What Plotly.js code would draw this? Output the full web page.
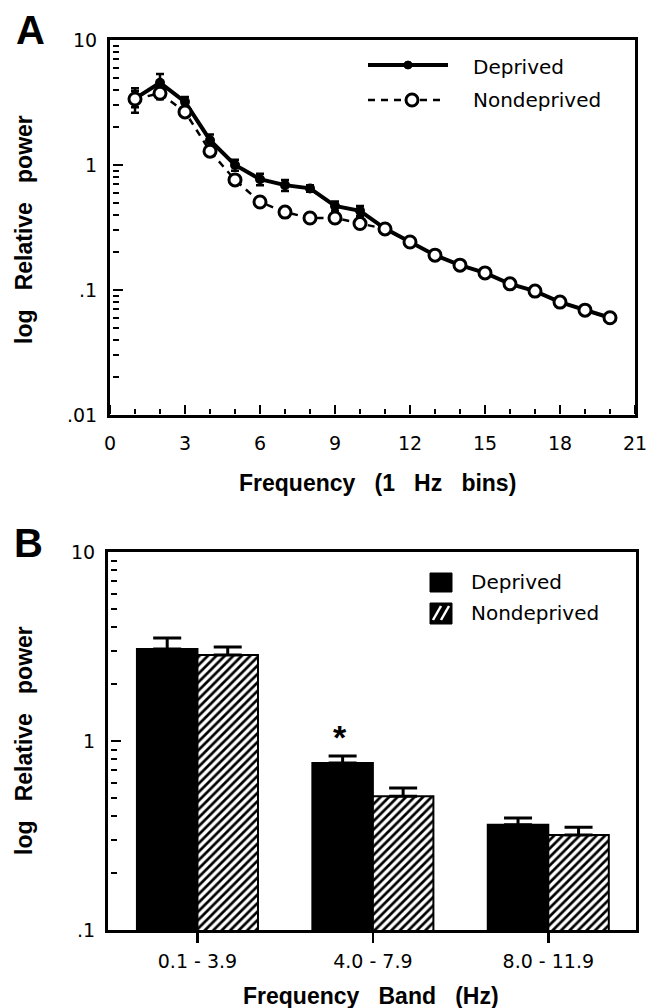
<!DOCTYPE html>
<html>
<head>
<meta charset="utf-8">
<script src="https://cdn.plot.ly/plotly-3.0.1.min.js"></script>
<style>html,body{margin:0;padding:0;background:#fff;}#chart{width:658px;height:1008px;}</style>
</head>
<body>
<div id="chart"></div>
<script>
// ---------- Data: panel A ----------
const freqBins = [1,2,3,4,5,6,7,8,9,10,11,12,13,14,15,16,17,18,19,20];
const deprivedPower = [3.4,4.55,3.2,1.58,1.0,0.77,0.69,0.65,0.47,0.43,0.31,0.245,0.19,0.158,0.137,0.112,0.098,0.080,0.069,0.060];
const deprivedErr   = [0.5,0.8,0.3,0.17,0.1,0.08,0.07,0.04,0.04,0.04,0.012,0.01,0.008,0.007,0.006,0.005,0.004,0.004,0.003,0.003];
const nondeprivedPower = [3.37,3.75,2.66,1.29,0.76,0.506,0.42,0.377,0.377,0.34,0.308,0.242,0.19,0.158,0.137,0.112,0.098,0.080,0.069,0.060];
const nondeprivedErr   = [0.75,0.4,0.2,0.1,0.06,0.04,0.04,0.03,0.03,0.03,0.012,0.01,0.008,0.007,0.006,0.005,0.004,0.004,0.003,0.003];
const xTickVals = [0,3,6,9,12,15,18,21];
const xMinorTickVals = [1,2,4,5,7,8,10,11,13,14,16,17,19,20];
const yTickVals = [0.01,0.1,1,10];
const yTickText = ['.01','.1','1','10'];

// ---------- Data: panel B ----------
const bands = ['0.1 - 3.9','4.0 - 7.9','8.0 - 11.9'];
const bandDeprived = [3.07,0.765,0.36];
const bandDeprivedErr = [0.44,0.068,0.031];
const bandNondeprived = [2.85,0.51,0.318];
const bandNondeprivedErr = [0.29,0.054,0.032];
const yTickValsB = [0.1,1,10];
const yTickTextB = ['.1','1','10'];

// ---------- helpers ----------
const W = 658, H = 1008;
const px = x => x / W;
const py = y => 1 - y / H;
function minorLog(lo, hi) {
  const v = [];
  for (let e = lo; e < hi; e++) for (let m = 2; m <= 9; m++) v.push(m * Math.pow(10, e));
  return v;
}
const FONT = 'DejaVu Sans, Verdana, sans-serif';
const BOLD = 'Liberation Sans, Arial, Helvetica, sans-serif';
const SP = '\u00a0\u00a0\u00a0';

// empty helper traces so that the tick-only overlay axes get drawn
const helper = (xa, ya) => ({x: [], y: [], xaxis: xa, yaxis: ya, type: 'scatter', mode: 'markers',
  showlegend: false, hoverinfo: 'skip'});

const traces = [
  helper('x3', 'y'), helper('x4', 'y'), helper('x', 'y3'), helper('x', 'y4'),
  helper('x2', 'y5'), helper('x2', 'y6'),
  {
    x: freqBins, y: deprivedPower, xaxis: 'x', yaxis: 'y', name: 'Deprived',
    type: 'scatter', mode: 'lines+markers',
    line: {color: 'black', width: 4},
    marker: {symbol: 'circle', size: 10, color: 'black'},
    error_y: {type: 'data', array: deprivedErr, visible: true, color: 'black', thickness: 2.5, width: 4},
    showlegend: false
  },
  {
    x: freqBins, y: nondeprivedPower, xaxis: 'x', yaxis: 'y', name: 'Nondeprived',
    type: 'scatter', mode: 'lines+markers',
    line: {color: 'black', width: 2.5, dash: '7px,6px'},
    marker: {symbol: 'circle', size: 12, color: 'white', line: {color: 'black', width: 3}},
    error_y: {type: 'data', array: nondeprivedErr, visible: true, color: 'black', thickness: 2.5, width: 4},
    showlegend: false
  },
  {
    x: bands, y: bandDeprived, xaxis: 'x2', yaxis: 'y2', name: 'Deprived', type: 'bar',
    marker: {color: 'black', line: {color: 'black', width: 2}},
    error_y: {type: 'data', symmetric: false, array: bandDeprivedErr, arrayminus: [0,0,0], color: 'black', thickness: 3, width: 14},
    showlegend: false
  },
  {
    x: bands, y: bandNondeprived, xaxis: 'x2', yaxis: 'y2', name: 'Nondeprived', type: 'bar',
    marker: {color: 'white', line: {color: 'black', width: 2},
             pattern: {shape: '/', fgcolor: 'black', bgcolor: 'white', size: 6, solidity: 0.45}},
    error_y: {type: 'data', symmetric: false, array: bandNondeprivedErr, arrayminus: [0,0,0], color: 'black', thickness: 3, width: 14},
    showlegend: false
  }
];

const axisCommon = {
  showline: true, linecolor: 'black', linewidth: 3, mirror: true,
  showgrid: false, zeroline: false,
  tickcolor: 'black', tickfont: {family: FONT, size: 19, color: 'black'},
  fixedrange: true
};
// tick-only axes placed on the frame, facing inward (outside ticks of an opposite-side axis)
const tickAxis = {
  showline: false, showgrid: false, zeroline: false, fixedrange: true, showticklabels: false,
  ticks: 'outside', tickcolor: 'black', tickmode: 'array', anchor: 'free'
};

const legendShapes = [
  // legend A
  {type: 'line', xref: 'paper', yref: 'paper', x0: px(368), x1: px(448), y0: py(65), y1: py(65), line: {color: 'black', width: 4}},
  {type: 'circle', xref: 'paper', yref: 'paper', x0: px(404), x1: px(412), y0: py(69), y1: py(61), fillcolor: 'black', line: {color: 'black', width: 1}},
  {type: 'line', xref: 'paper', yref: 'paper', x0: px(368), x1: px(446), y0: py(100), y1: py(100), line: {color: 'black', width: 2.5, dash: '7px,6px'}},
  {type: 'circle', xref: 'paper', yref: 'paper', x0: px(406), x1: px(418), y0: py(106), y1: py(94), fillcolor: 'white', line: {color: 'black', width: 3}},
  // legend B
  {type: 'rect', xref: 'paper', yref: 'paper', x0: px(430), x1: px(452), y0: py(592), y1: py(573), fillcolor: 'black', line: {color: 'black', width: 1}},
  {type: 'rect', xref: 'paper', yref: 'paper', x0: px(430), x1: px(452), y0: py(624), y1: py(603), fillcolor: 'black', line: {color: 'black', width: 1}},
  {type: 'line', xref: 'paper', yref: 'paper', x0: px(433), x1: px(441), y0: py(620), y1: py(606), line: {color: 'white', width: 2.5}},
  {type: 'line', xref: 'paper', yref: 'paper', x0: px(441), x1: px(449), y0: py(620), y1: py(606), line: {color: 'white', width: 2.5}}
];

const layout = {
  width: W, height: H,
  margin: {l: 0, r: 0, t: 0, b: 0},
  paper_bgcolor: 'white', plot_bgcolor: 'white',
  showlegend: false,
  barmode: 'group', bargap: 0.31, bargroupgap: 0,
  xaxis: Object.assign({}, axisCommon, {
    domain: [px(110), px(635)], anchor: 'y',
    range: [0, 21], tickmode: 'array', tickvals: xTickVals,
    ticks: '', ticklabelstandoff: 9
  }),
  yaxis: Object.assign({}, axisCommon, {
    domain: [py(415), py(40)], anchor: 'x',
    type: 'log', range: [-2, 1], tickmode: 'array', tickvals: yTickVals, ticktext: yTickText,
    ticks: '', ticklabelstandoff: 6
  }),
  xaxis3: Object.assign({}, tickAxis, {
    overlaying: 'x', side: 'top', position: py(415) + 1.5 / H, range: [0, 21],
    tickvals: xTickVals, ticklen: 9, tickwidth: 2.5
  }),
  xaxis4: Object.assign({}, tickAxis, {
    overlaying: 'x', side: 'top', position: py(415) + 1.5 / H, range: [0, 21],
    tickvals: xMinorTickVals, ticklen: 5, tickwidth: 2
  }),
  yaxis3: Object.assign({}, tickAxis, {
    overlaying: 'y', side: 'right', position: px(110) + 1.5 / W, type: 'log', range: [-2, 1],
    tickvals: [0.1, 1], ticklen: 10, tickwidth: 2.5
  }),
  yaxis4: Object.assign({}, tickAxis, {
    overlaying: 'y', side: 'right', position: px(110) + 1.5 / W, type: 'log', range: [-2, 1],
    tickvals: minorLog(-2, 1), ticklen: 6, tickwidth: 2
  }),
  xaxis2: Object.assign({}, axisCommon, {
    domain: [px(108), px(636)], anchor: 'y2',
    type: 'category', range: [-0.51, 2.5],
    ticks: 'outside', ticklen: 10, tickwidth: 2.5, ticklabelstandoff: 2
  }),
  yaxis2: Object.assign({}, axisCommon, {
    domain: [py(930), py(552)], anchor: 'x2',
    type: 'log', range: [-1, 1], tickmode: 'array', tickvals: yTickValsB, ticktext: yTickTextB,
    ticks: '', ticklabelstandoff: 6
  }),
  yaxis5: Object.assign({}, tickAxis, {
    overlaying: 'y2', side: 'right', position: px(108) + 1.5 / W, type: 'log', range: [-1, 1],
    tickvals: [1], ticklen: 10, tickwidth: 2.5
  }),
  yaxis6: Object.assign({}, tickAxis, {
    overlaying: 'y2', side: 'right', position: px(108) + 1.5 / W, type: 'log', range: [-1, 1],
    tickvals: minorLog(-1, 1), ticklen: 6, tickwidth: 2
  }),
  annotations: [
    {xref: 'paper', yref: 'paper', x: px(30), y: py(30), text: '<b>A</b>', showarrow: false,
     font: {family: BOLD, size: 40, color: 'black'}, xanchor: 'center', yanchor: 'middle'},
    {xref: 'paper', yref: 'paper', x: px(28), y: py(543), text: '<b>B</b>', showarrow: false,
     font: {family: BOLD, size: 40, color: 'black'}, xanchor: 'center', yanchor: 'middle'},
    {xref: 'paper', yref: 'paper', x: px(24), y: py(230), text: '<b>log' + SP + 'Relative' + SP + 'power</b>', textangle: -90,
     showarrow: false, font: {family: BOLD, size: 23, color: 'black'}, xanchor: 'center', yanchor: 'middle'},
    {xref: 'paper', yref: 'paper', x: px(377), y: py(483), text: '<b>Frequency' + SP + '(1' + SP + 'Hz' + SP + 'bins)</b>',
     showarrow: false, font: {family: BOLD, size: 23, color: 'black'}, xanchor: 'center', yanchor: 'middle'},
    {xref: 'paper', yref: 'paper', x: px(24), y: py(741), text: '<b>log' + SP + 'Relative' + SP + 'power</b>', textangle: -90,
     showarrow: false, font: {family: BOLD, size: 23, color: 'black'}, xanchor: 'center', yanchor: 'middle'},
    {xref: 'paper', yref: 'paper', x: px(371), y: py(996), text: '<b>Frequency' + SP + 'Band' + SP + '(Hz)</b>',
     showarrow: false, font: {family: BOLD, size: 23, color: 'black'}, xanchor: 'center', yanchor: 'middle'},
    // legend texts
    {xref: 'paper', yref: 'paper', x: px(471), y: py(67), text: 'Deprived', showarrow: false,
     font: {family: FONT, size: 20, color: 'black'}, xanchor: 'left', yanchor: 'middle'},
    {xref: 'paper', yref: 'paper', x: px(471), y: py(100), text: 'Nondeprived', showarrow: false,
     font: {family: FONT, size: 20, color: 'black'}, xanchor: 'left', yanchor: 'middle'},
    {xref: 'paper', yref: 'paper', x: px(469), y: py(582), text: 'Deprived', showarrow: false,
     font: {family: FONT, size: 20, color: 'black'}, xanchor: 'left', yanchor: 'middle'},
    {xref: 'paper', yref: 'paper', x: px(469), y: py(613), text: 'Nondeprived', showarrow: false,
     font: {family: FONT, size: 20, color: 'black'}, xanchor: 'left', yanchor: 'middle'},
    // significance asterisk
    {xref: 'x2', yref: 'y2', x: 0.81, y: Math.log10(1.05), text: '<b>*</b>', showarrow: false,
     font: {family: BOLD, size: 34, color: 'black'}, xanchor: 'center', yanchor: 'middle'}
  ],
  shapes: legendShapes
};

Plotly.newPlot('chart', traces, layout, {displayModeBar: false, staticPlot: true});
</script>
</body>
</html>
